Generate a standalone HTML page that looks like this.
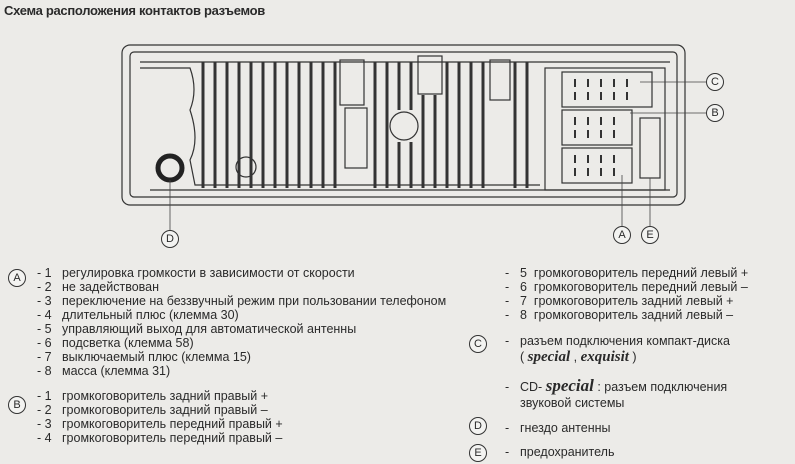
<!DOCTYPE html>
<html><head><meta charset="utf-8"><style>
body{margin:0;width:795px;height:464px;background:#ecebe8;overflow:hidden;font-family:"Liberation Sans","DejaVu Sans",sans-serif;color:#2a2a2a;position:relative}
.t{position:absolute;font-size:12.5px;white-space:nowrap;line-height:14px}
.c{position:absolute;width:16px;height:16px;border:1px solid #333;border-radius:50%;font-size:11px;text-align:center;line-height:16px;background:#f3f3f1}
i.s{font-family:"Liberation Serif",serif;font-style:italic;font-weight:bold;font-size:15px}
</style></head><body>
<div class="t" style="left:4px;top:4px;font-weight:bold;font-size:13px;letter-spacing:-0.3px">Схема расположения контактов разъемов</div>
<svg width="795" height="464" style="position:absolute;left:0;top:0">
<g fill="none" stroke="#333" stroke-width="1.2">
<rect x="122" y="45" width="563" height="160" rx="8"/>
<rect x="130" y="52" width="547" height="145" rx="4"/>
<line x1="140" y1="62" x2="670" y2="62"/>
<path d="M140 68 H190 Q198 90 190 110 Q200 140 190 160 L195 185 H540"/>
<line x1="150" y1="190" x2="670" y2="190"/>
<rect x="545" y="68" width="120" height="122"/>
<rect x="562" y="72" width="90" height="35"/>
<rect x="562" y="110" width="70" height="35"/>
<rect x="562" y="148" width="70" height="35"/>
<rect x="640" y="118" width="20" height="60"/>
<rect x="340" y="60" width="24" height="45"/><rect x="345" y="108" width="22" height="60"/>
<rect x="418" y="56" width="24" height="38"/><rect x="490" y="60" width="20" height="40"/>
<circle cx="404" cy="126" r="14"/><circle cx="246" cy="167" r="10"/>
</g>
<g stroke="#333" stroke-width="3">
<path d="M203 62V188M215 62V188M227 62V188M239 62V188M251 62V188M263 62V188M275 62V188M287 62V188M299 62V188M311 62V188M323 62V188M335 62V188M375 62V188M387 62V188M399 62V110M411 62V110M399 142V188M411 142V188M423 95V188M435 95V188M447 62V188M459 62V188M471 62V188M483 62V188M515 62V188M527 62V188"/>
</g>
<g stroke="#333" stroke-width="2">
<path d="M575 79v8M588 79v8M601 79v8M614 79v8M627 79v8M575 92v8M588 92v8M601 92v8M614 92v8M627 92v8M575 117v8M588 117v8M601 117v8M614 117v8M575 130v8M588 130v8M601 130v8M614 130v8M575 155v8M588 155v8M601 155v8M614 155v8M575 168v8M588 168v8M601 168v8M614 168v8"/>
</g>
<circle cx="170" cy="168" r="12" fill="none" stroke="#222" stroke-width="5"/>
<g stroke="#444" stroke-width="0.8" fill="none">
<line x1="170" y1="180" x2="170" y2="230"/><line x1="622" y1="175" x2="622" y2="227"/><line x1="650" y1="178" x2="650" y2="227"/>
<line x1="640" y1="82" x2="706" y2="82"/><line x1="630" y1="113" x2="706" y2="113"/>
</g>
</svg>
<div class="c" style="left:706px;top:73px">C</div>
<div class="c" style="left:706px;top:104px">B</div>
<div class="c" style="left:613px;top:226px">A</div>
<div class="c" style="left:641px;top:226px">E</div>
<div class="c" style="left:161px;top:230px">D</div>

<div class="c" style="left:8px;top:269px">A</div>
<div class="t" style="left:37px;top:266px">- 1</div><div class="t" style="left:62px;top:266px">регулировка громкости в зависимости от скорости</div>
<div class="t" style="left:37px;top:280px">- 2</div><div class="t" style="left:62px;top:280px">не задействован</div>
<div class="t" style="left:37px;top:294px">- 3</div><div class="t" style="left:62px;top:294px">переключение на беззвучный режим при пользовании телефоном</div>
<div class="t" style="left:37px;top:308px">- 4</div><div class="t" style="left:62px;top:308px">длительный плюс (клемма 30)</div>
<div class="t" style="left:37px;top:322px">- 5</div><div class="t" style="left:62px;top:322px">управляющий выход для автоматической антенны</div>
<div class="t" style="left:37px;top:336px">- 6</div><div class="t" style="left:62px;top:336px">подсветка (клемма 58)</div>
<div class="t" style="left:37px;top:350px">- 7</div><div class="t" style="left:62px;top:350px">выключаемый плюс (клемма 15)</div>
<div class="t" style="left:37px;top:364px">- 8</div><div class="t" style="left:62px;top:364px">масса (клемма 31)</div>
<div class="c" style="left:8px;top:396px">B</div>
<div class="t" style="left:37px;top:389px">- 1</div><div class="t" style="left:62px;top:389px">громкоговоритель задний правый +</div>
<div class="t" style="left:37px;top:403px">- 2</div><div class="t" style="left:62px;top:403px">громкоговоритель задний правый –</div>
<div class="t" style="left:37px;top:417px">- 3</div><div class="t" style="left:62px;top:417px">громкоговоритель передний правый +</div>
<div class="t" style="left:37px;top:431px">- 4</div><div class="t" style="left:62px;top:431px">громкоговоритель передний правый –</div>

<div class="t" style="left:505px;top:266px">-</div><div class="t" style="left:520px;top:266px">5 &nbsp;громкоговоритель передний левый +</div>
<div class="t" style="left:505px;top:280px">-</div><div class="t" style="left:520px;top:280px">6 &nbsp;громкоговоритель передний левый –</div>
<div class="t" style="left:505px;top:294px">-</div><div class="t" style="left:520px;top:294px">7 &nbsp;громкоговоритель задний левый +</div>
<div class="t" style="left:505px;top:308px">-</div><div class="t" style="left:520px;top:308px">8 &nbsp;громкоговоритель задний левый –</div>
<div class="c" style="left:469px;top:335px">C</div>
<div class="t" style="left:505px;top:334px">-</div><div class="t" style="left:520px;top:334px">разъем подключения компакт-диска</div>
<div class="t" style="left:520px;top:349px;line-height:16px">( <i class="s">special</i> , <i class="s">exquisit</i> )</div>
<div class="t" style="left:505px;top:380px">-</div><div class="t" style="left:520px;top:377px;line-height:18px">CD- <i class="s" style="font-size:17px">special</i> : разъем подключения</div>
<div class="t" style="left:520px;top:396px">звуковой системы</div>
<div class="c" style="left:469px;top:417px">D</div>
<div class="t" style="left:505px;top:421px">-</div><div class="t" style="left:520px;top:421px">гнездо антенны</div>
<div class="c" style="left:469px;top:444px">E</div>
<div class="t" style="left:505px;top:445px">-</div><div class="t" style="left:520px;top:445px">предохранитель</div>
</body></html>
